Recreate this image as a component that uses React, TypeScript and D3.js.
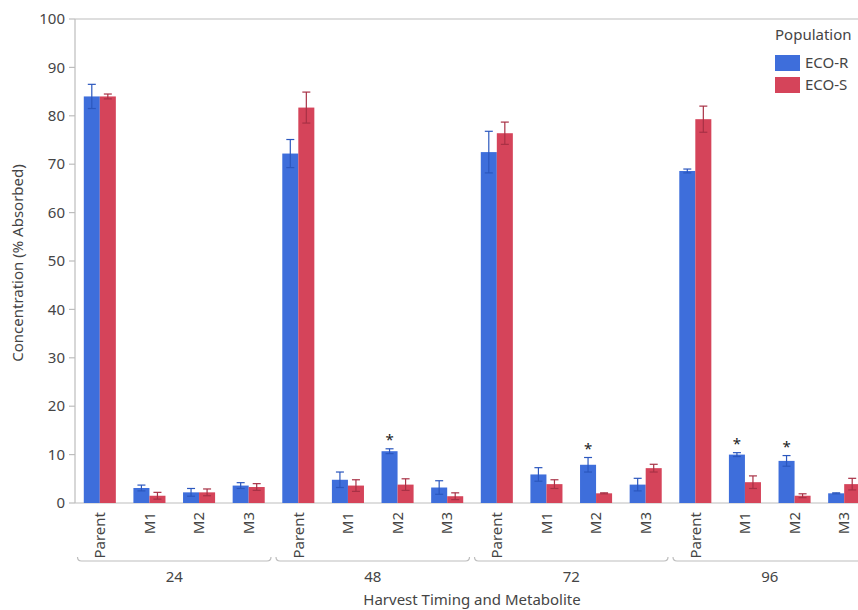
import React from "react";
import * as d3 from "d3";

const timings = ["24", "48", "72", "96"];
const metabolites = ["Parent", "M1", "M2", "M3"];
const series = ["ECO-R", "ECO-S"];
// values ordered by timing then metabolite
const ecoRMean = [84.0, 3.1, 2.2, 3.6, 72.2, 4.8, 10.7, 3.2, 72.5, 5.9, 7.9, 3.8, 68.6, 10.0, 8.7, 2.0];
const ecoRErr = [2.5, 0.6, 0.8, 0.6, 2.9, 1.6, 0.5, 1.4, 4.3, 1.4, 1.5, 1.3, 0.4, 0.4, 1.1, 0.1];
const ecoSMean = [84.0, 1.5, 2.2, 3.3, 81.7, 3.6, 3.8, 1.4, 76.4, 3.9, 2.0, 7.2, 79.3, 4.3, 1.5, 3.9];
const ecoSErr = [0.5, 0.7, 0.7, 0.7, 3.2, 1.2, 1.2, 0.7, 2.3, 0.9, 0.1, 0.8, 2.7, 1.3, 0.4, 1.2];
const starsR = [false, false, false, false, false, false, true, false, false, false, true, false, false, true, true, false];
const yTicks = [0, 10, 20, 30, 40, 50, 60, 70, 80, 90, 100];

const colors = ["#3E6EDB", "#D5445A"];
const errColors = ["#2B57BE", "#A83145"];
const font = "'Noto Sans', 'Open Sans', sans-serif";
const textColor = "#454545";
const axisColor = "#bdbdbd";
const fs = 15;

export default function App() {
  const left = 75, right = 869, top = 19, bottom = 503;
  const keys = timings.flatMap((t) => metabolites.map((m) => `${t}|${m}`));
  const x0 = d3.scaleBand<string>().domain(keys).range([left, right]).padding(0);
  const bw = x0.bandwidth();
  const x1 = d3.scaleBand<string>().domain(series).range([bw * 0.177, bw * 0.823]).padding(0);
  const y = d3.scaleLinear().domain([0, 100]).range([bottom, top]);
  const means = [ecoRMean, ecoSMean];
  const errs = [ecoRErr, ecoSErr];

  return (
    <svg width={858} height={610} style={{ position: "absolute", left: 0, top: 0, background: "#fff" }} fontFamily={font}>
      {/* frame lines */}
      <line x1={left} x2={858} y1={top} y2={top} stroke={axisColor} strokeWidth={1.2} />
      <line x1={left} x2={858} y1={bottom} y2={bottom} stroke={axisColor} strokeWidth={1.2} />
      <line x1={left} x2={left} y1={top} y2={bottom} stroke={axisColor} strokeWidth={1.2} />
      {yTicks.map((t) => (
        <g key={t}>
          <line x1={left - 6} x2={left} y1={y(t)} y2={y(t)} stroke={axisColor} strokeWidth={1.2} />
          <text x={left - 10} y={y(t)} dy="0.35em" textAnchor="end" fontSize={fs} fill={textColor}>{t}</text>
        </g>
      ))}
      {/* bars */}
      {keys.map((k, i) => (
        <g key={k} transform={`translate(${x0(k)},0)`}>
          {series.map((s, si) => {
            const v = means[si][i];
            const e = errs[si][i];
            const bx = x1(s)!;
            const cx = bx + x1.bandwidth() / 2;
            return (
              <g key={s}>
                <rect x={bx} y={y(v)} width={x1.bandwidth()} height={y(0) - y(v)} fill={colors[si]} />
                <line x1={cx} x2={cx} y1={y(v + e)} y2={y(Math.max(0, v - e))} stroke={errColors[si]} strokeWidth={1.2} />
                <line x1={cx - 4} x2={cx + 4} y1={y(v + e)} y2={y(v + e)} stroke={errColors[si]} strokeWidth={1.2} />
                <line x1={cx - 4} x2={cx + 4} y1={y(Math.max(0, v - e))} y2={y(Math.max(0, v - e))} stroke={errColors[si]} strokeWidth={1.2} />
              </g>
            );
          })}
          {starsR[i] && (
            <text x={x1("ECO-R")! + x1.bandwidth() / 2} y={y(ecoRMean[i] + ecoRErr[i]) - 4} textAnchor="middle" fontSize={15} fill="#222">*</text>
          )}
          <text
            transform={`translate(${bw / 2},${bottom + 9}) rotate(-90)`}
            dy="0.35em"
            textAnchor="end"
            fontSize={fs}
            fill={textColor}
          >
            {k.split("|")[1]}
          </text>
        </g>
      ))}
      {/* group brackets */}
      {timings.map((t) => {
        const first = x0(`${t}|${metabolites[0]}`)!;
        const last = x0(`${t}|${metabolites[metabolites.length - 1]}`)! + bw;
        const a = first + 2.5, b = last - 2.5, by = 561;
        return (
          <g key={t}>
            <path d={`M${a},${by - 4} Q${a},${by} ${a + 4},${by} L${b - 4},${by} Q${b},${by} ${b},${by - 4}`} fill="none" stroke={axisColor} strokeWidth={1.2} />
            <text x={(first + last) / 2} y={577} dy="0.35em" textAnchor="middle" fontSize={fs} fill={textColor}>{t}</text>
          </g>
        );
      })}
      <text x={(left + right) / 2} y={600} dy="0.35em" textAnchor="middle" fontSize={fs} fill={textColor}>Harvest Timing and Metabolite</text>
      <text transform={`translate(18,${(top + bottom) / 2 + 2}) rotate(-90)`} dy="0.35em" textAnchor="middle" fontSize={fs} fill={textColor}>Concentration (% Absorbed)</text>
      {/* legend */}
      <g>
        <text x={775} y={35} dy="0.35em" fontSize={fs} fill={textColor}>Population</text>
        {series.map((s, si) => (
          <g key={s} transform={`translate(775,${55 + si * 22})`}>
            <rect x={0} y={0} width={25} height={16} fill={colors[si]} />
            <text x={30} y={8} dy="0.35em" fontSize={fs} fill={textColor}>{s}</text>
          </g>
        ))}
      </g>
    </svg>
  );
}
